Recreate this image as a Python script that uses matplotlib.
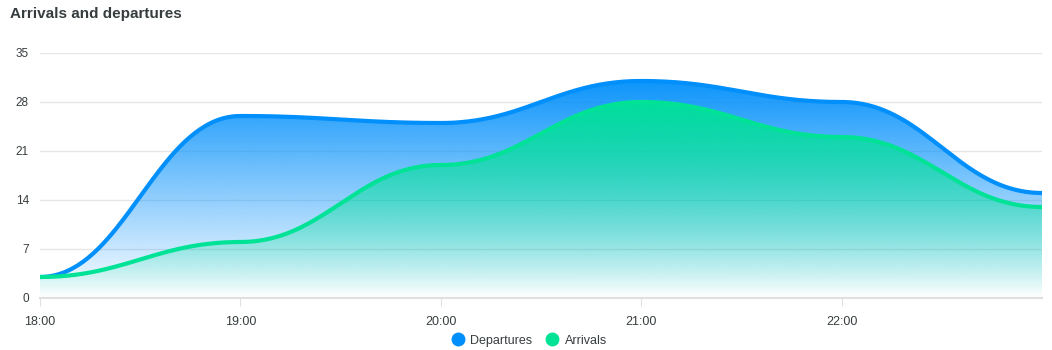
import matplotlib

matplotlib.use("Agg")
import matplotlib.pyplot as plt
import numpy as np
from matplotlib.lines import Line2D
from matplotlib.patches import Polygon

hours = [18, 19, 20, 21, 22, 23]
tick_labels = ["18:00", "19:00", "20:00", "21:00", "22:00"]
departures = [3, 26, 25, 31, 28, 15]
arrivals = [3, 8, 19, 28, 23, 13]

BLUE = "#008FFB"
GREEN = "#00E396"

plt.rcParams["font.family"] = ["Liberation Sans", "DejaVu Sans"]


def smooth(x, y, k=0.42, n=80):
    # cubic bezier per segment with flat tangents at each point
    xs, ys = [], []
    t = np.linspace(0, 1, n)
    for i in range(len(x) - 1):
        x0, x1, y0, y1 = x[i], x[i + 1], y[i], y[i + 1]
        dx = x1 - x0
        px = [x0, x0 + k * dx, x1 - k * dx, x1]
        py = [y0, y0, y1, y1]
        b = [(1 - t) ** 3, 3 * (1 - t) ** 2 * t, 3 * (1 - t) * t**2, t**3]
        xs.append(sum(bi * p for bi, p in zip(b, px)))
        ys.append(sum(bi * p for bi, p in zip(b, py)))
    return np.concatenate(xs), np.concatenate(ys)


fig = plt.figure(figsize=(10.52, 3.5), dpi=100)
ax = fig.add_axes([0.038, 0.1486, 0.9525, 0.70])


def gradient_area(xs, ys, color, top_alpha, bottom_alpha, z):
    rgb = matplotlib.colors.to_rgb(color)
    img = np.zeros((256, 1, 4))
    img[:, :, :3] = rgb
    img[:, 0, 3] = np.linspace(top_alpha, bottom_alpha, 256)
    im = ax.imshow(img, aspect="auto", extent=[xs[0], xs[-1], 0, ys.max()],
                   origin="upper", zorder=z, interpolation="bilinear")
    verts = np.column_stack([np.r_[xs, xs[-1], xs[0]], np.r_[ys, 0, 0]])
    poly = Polygon(verts, closed=True, facecolor="none", edgecolor="none")
    ax.add_patch(poly)
    im.set_clip_path(poly)


xd, yd = smooth(hours, departures)
xa, ya = smooth(hours, arrivals)
gradient_area(xd, yd, BLUE, 0.95, 0.0, 2)
gradient_area(xa, ya, GREEN, 0.95, 0.0, 3)
ax.plot(xd, yd, color=BLUE, lw=3, zorder=4, solid_capstyle="round")
ax.plot(xa, ya, color=GREEN, lw=3, zorder=5, solid_capstyle="round")

ax.set_xlim(18, 23)
ax.set_ylim(0, 35)
ax.set_yticks(range(0, 36, 7))
ax.set_xticks(hours[:-1])
ax.set_xticklabels(tick_labels)
ax.grid(axis="y", color="#e6e6e6", lw=1, zorder=1)
ax.set_axisbelow(True)
for s in ["left", "right", "top"]:
    ax.spines[s].set_visible(False)
ax.spines["bottom"].set_color("#e0e0e0")
ax.spines["bottom"].set_linewidth(1.5)
ax.tick_params(axis="y", length=0, pad=8, labelsize=8.5, labelcolor="#373d3f")
ax.tick_params(axis="x", length=6, color="#e0e0e0", pad=7, labelsize=9, labelcolor="#373d3f")

fig.text(0.0095, 0.96, "Arrivals and departures", fontsize=11, fontweight="bold",
         color="#373d3f", va="center", ha="left")

handles = [
    Line2D([], [], marker="o", ls="none", markersize=9, color=BLUE, label="Departures"),
    Line2D([], [], marker="o", ls="none", markersize=9, color=GREEN, label="Arrivals"),
]
fig.legend(handles=handles, loc="center", bbox_to_anchor=(0.5, 0.027), ncol=2,
           frameon=False, fontsize=9, handletextpad=0.0, columnspacing=0.6,
           labelcolor="#373d3f")

fig.savefig("out.png", dpi=100)
